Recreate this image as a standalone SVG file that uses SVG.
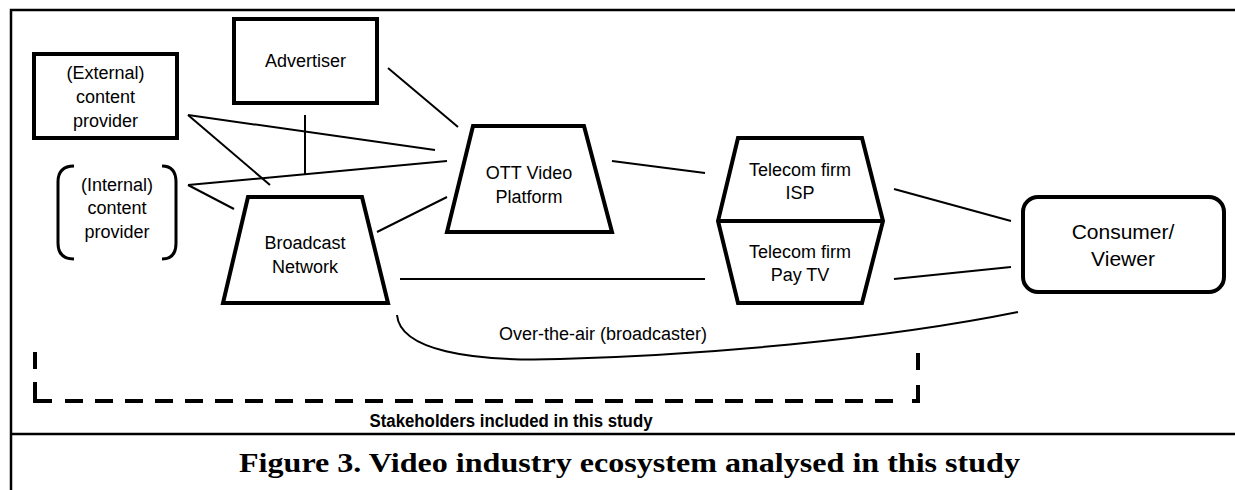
<svg xmlns="http://www.w3.org/2000/svg" width="1235" height="490" viewBox="0 0 1235 490">
<style>
.node{fill:#fff;stroke:#000;stroke-width:4;stroke-linejoin:miter}
.lbl{font-family:"Liberation Sans",Arial,sans-serif;font-size:18px;fill:#000;text-anchor:middle}
.conn line,.conn path{stroke:#000;stroke-width:2;fill:none}
.frame{stroke:#000;stroke-width:2.5;fill:none}
.dash{stroke:#000;stroke-width:4;fill:none}
</style>
<rect width="1235" height="490" fill="#fff"/>
<path class="frame" d="M11,490 V10 H1235"/>
<line class="frame" x1="11" y1="434" x2="1235" y2="434"/>

<g id="connectors" class="conn">
<line x1="388" y1="68" x2="458" y2="127"/>
<line x1="188" y1="115" x2="435" y2="150"/>
<line x1="188" y1="115" x2="270" y2="185"/>
<line x1="188" y1="185" x2="447" y2="161"/>
<line x1="188" y1="185" x2="234" y2="209"/>
<line x1="305" y1="115" x2="305" y2="174"/>
<line x1="377" y1="232" x2="447" y2="197"/>
<line x1="612" y1="161" x2="705" y2="173"/>
<line x1="400" y1="279" x2="705" y2="279"/>
<line x1="894" y1="189" x2="1011" y2="221"/>
<line x1="894" y1="279" x2="1011" y2="267"/>
<path d="M397,315 C400,350 470,362 560,359 C700,355 880,340 1018,312"/>
<text class="lbl" x="603" y="340">Over-the-air (broadcaster)</text>
</g>

<g id="external">
<rect class="node" x="34" y="54" width="143" height="84"/>
<text class="lbl" x="105.5" y="79">(External)</text>
<text class="lbl" x="105.5" y="103">content</text>
<text class="lbl" x="105.5" y="127">provider</text>
</g>

<g id="advertiser">
<rect class="node" x="234" y="19" width="143" height="84"/>
<text class="lbl" x="305.5" y="67">Advertiser</text>
</g>

<g id="internal">
<path d="M74,166 Q58,166 58,182 V243 Q58,259 74,259 M162,166 Q176,166 176,182 V243 Q176,259 162,259" fill="none" stroke="#000" stroke-width="3"/>
<text class="lbl" x="117" y="191">(Internal)</text>
<text class="lbl" x="117" y="214">content</text>
<text class="lbl" x="117" y="238">provider</text>
</g>

<g id="broadcast">
<polygon class="node" points="248,197 362,197 388,303 223,303"/>
<text class="lbl" x="305" y="249">Broadcast</text>
<text class="lbl" x="305" y="273">Network</text>
</g>

<g id="ott">
<polygon class="node" points="473,126 584,126 612,232 447,232"/>
<text class="lbl" x="529" y="179">OTT Video</text>
<text class="lbl" x="529" y="203">Platform</text>
</g>

<g id="telecom">
<polygon class="node" points="738,138 862,138 883,221 862,303 738,303 718,221"/>
<line x1="718" y1="221" x2="883" y2="221" stroke="#000" stroke-width="4"/>
<text class="lbl" x="800" y="176">Telecom firm</text>
<text class="lbl" x="800" y="199">ISP</text>
<text class="lbl" x="800" y="258">Telecom firm</text>
<text class="lbl" x="800" y="281">Pay TV</text>
</g>

<g id="consumer">
<rect class="node" x="1023" y="197" width="201" height="95" rx="15" ry="15"/>
<text class="lbl" x="1123" y="239" style="font-size:21px">Consumer/</text>
<text class="lbl" x="1123" y="266" style="font-size:21px">Viewer</text>
</g>

<g id="stakeholders">
<path class="dash" d="M35,352 V369 M35,382 V401 H52 M918,353 V370 M918,385 V401 H912"/>
<path class="dash" d="M65,401 H903" stroke-dasharray="18 12"/>
<text class="lbl" x="511" y="427" style="font-size:18px;font-weight:bold" textLength="283" lengthAdjust="spacingAndGlyphs">Stakeholders included in this study</text>
</g>

<text x="629.5" y="472" font-family="'Liberation Serif','Times New Roman',serif" font-weight="bold" font-size="28" text-anchor="middle" textLength="781" lengthAdjust="spacingAndGlyphs">Figure 3. Video industry ecosystem analysed in this study</text>
</svg>
